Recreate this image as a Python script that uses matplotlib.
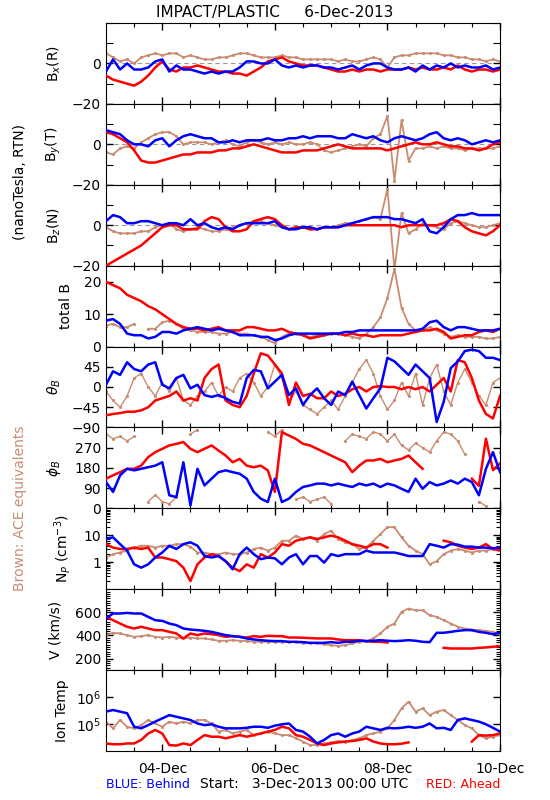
import numpy as np
import matplotlib
matplotlib.use("Agg")
import matplotlib.pyplot as plt
from matplotlib.ticker import FixedLocator, NullFormatter, LogLocator

nan = np.nan

# 3-hourly samples from 3-Dec-2013 00:00 UTC to 10-Dec-2013 00:00 UTC (days since start)
days = np.arange(57) * 3 / 24.0

BLUE = "#0000ff"
RED = "#ff0000"
BROWN = "#c98c72"

# ---- B_x (R), nT
bx_blue = [-4, 2, -3, 0, -3, -3, -2, 1, 2, -4, -1, -3, -3, -4, -5, -4, -5, -4, -4, -2,
           1, 1, 0, 0, 2, -1, -2, -1, -2, -1, -1, -2, -2, -3, -2, -1, -3, -1, 0, 0,
           -2, -3, -3, -2, -4, -1, -3, -1, -2, 0, -2, -1, -2, -2, -1, -3, -2]
bx_red = [-6, -8, -9, -10, -11, -9, -6, -2, 1, -3, -4, -2, -2, -1, -2, -3, -4, -4, -5, -5,
          -6, -4, -2, 1, 2, 3, 1, 0, -1, -1, -1, -2, -3, -4, -4, -3, -4, -3, -3, -4,
          -3, -3, -3, -2, -3, -2, -3, -3, -2, -3, -1, -3, -4, -3, -3, -4, -3]
bx_ace = [5, 3, 1, 2, 0, 3, 4, 5, 4, 5, 5, 3, 4, 3, 2, 2, 3, 3, 4, 5,
          5, 4, 3, 3, 3, 4, 3, 3, 2, 2, 2, 2, 2, 1, 2, 1, 1, 2, 3, 2,
          -2, 3, 4, 4, 5, 5, 5, 5, 4, 4, 3, 3, 2, 2, 1, 2, 1]

# ---- B_y (T), nT
by_blue = [7, 6, 5, 2, 0, 0, -1, 2, 3, -1, 2, 4, 5, 4, 3, 3, 1, 1, 2, 1,
           2, 2, 2, 3, 2, 2, 3, 3, 4, 3, 4, 4, 4, 3, 3, 5, 4, 3, 4, 2,
           1, 3, 4, 3, 2, 3, 5, 6, 3, 2, 3, 2, 0, 1, 2, 1, 2]
by_red = [6, 5, 3, 1, -3, -8, -9, -9, -8, -7, -6, -5, -5, -4, -4, -4, -3, -3, -2, -2,
          -1, 0, -1, -2, -3, -4, -4, -4, -3, -3, -3, -2, -1, 0, -1, -2, -2, -2, -2, -2,
          -3, -2, -1, 0, 1, 0, 0, 1, 0, -1, -1, -2, -2, -3, -2, 0, 1]
by_ace = [-4, -5, -2, -1, -2, 1, 3, 5, 6, 6, 4, 0, 1, 1, 1, 0, 1, 2, 0, -1,
          1, 2, 1, 0, 1, 0, 1, 0, 0, 1, 0, -3, -4, -3, -2, -1, 0, -1, 3, 5,
          14, -18, 12, -8, -2, -2, -1, -2, -1, -2, -2, -3, -2, -2, -2, -2, -1]

# ---- B_z (N), nT
bz_blue = [2, 5, 4, 1, 1, 2, 2, 1, 0, 1, 1, 0, 3, 0, 1, -1, -2, -1, -2, 0,
           1, 1, 1, 1, 2, -1, -2, -2, -1, -1, -2, -1, -1, -1, 0, 1, 2, 3, 4, 4,
           4, 3, 3, 2, 1, 3, -3, -4, -1, 3, 5, 5, 6, 5, 5, 5, 5]
bz_red = [-20, -18, -16, -14, -12, -10, -7, -4, -1, 0, 0, -2, -2, -2, 2, 4, 3, -1, -3, -3,
          -2, 2, 3, 4, 3, 0, -2, -1, -1, -2, -2, -1, -1, -1, 0, 0, 0, 0, 0, 0,
          0, 0, -1, 0, 0, 0, 0, 0, 1, 3, 2, -1, -3, -4, -5, -3, 0]
bz_ace = [-1, -3, -4, -4, -4, -3, -3, -1, 0, 1, -2, -3, -2, -1, -2, -3, -3, -2, -1, 0,
          1, 2, 2, 1, 0, -1, -2, -1, -1, -2, -2, -1, -1, 0, 1, 1, 2, 3, 4, 3,
          18, -22, 6, -4, -2, 1, 0, -1, -2, 1, 2, 1, 0, -1, -1, 0, 1]

# ---- |B|, nT
bt_blue = [8, 8.5, 7, 4, 3.5, 3.5, 2.5, 3, 4.5, 4.5, 4, 5, 5.5, 6, 5.5, 5, 5.5, 5, 4.5, 3.5,
           3.5, 3.5, 3, 3, 2, 2.5, 3.5, 4, 4, 4, 4, 4, 4, 4, 4.5, 4.5, 5, 5, 5, 5,
           5, 5, 5, 5, 5, 5.5, 7.5, 8, 6, 5, 6, 6, 5.5, 5, 5, 5, 5.5]
bt_red = [20, 19, 18, 16, 15, 14, 12.5, 11.5, 10, 8.5, 7, 6, 5.5, 5.5, 5, 5.5, 6, 5, 5, 5,
          6, 6, 5.5, 5, 5, 5.5, 4.5, 4, 3.5, 2.5, 3, 3.5, 4, 4, 3.5, 4, 3.5, 3.5, 3, 3.5,
          3.5, 3.5, 3.5, 4, 4.5, 5, 5, 5.5, 4.5, 2.5, 3, 3.5, 3.5, 4.5, 5, 4.5, 5.5]
bt_ace = [6.5, 7, 6, 6, 7, nan, 5.5, 5.5, 7.5, 8, 7, 5.5, 5, 4.5, 4.5, 4.5, 4, 4, 4.5, 4,
          4, 3.5, 3, 2, 1, 3, 4, 4, 3.5, 3, 3.5, 3.5, 4, 4, 3.5, 3, 2.5, 4, 6, 9,
          15, 24, 12, 7, 5, 5, 6, 5, 4, 3, 3.5, 3, 3, 3, 2.5, 2.5, 3]

# ---- theta_B, deg
th_blue = [5, 35, 27, 55, 40, 35, 50, 55, 5, -3, 20, 27, -3, 5, -18, -22, -18, -25, -33, -37,
           20, 38, 35, -3, 12, 27, -18, -3, -40, -18, -3, -25, -40, -10, -18, 12, -18, -48, -25, -3,
           65, 57, 42, 27, 50, 35, 20, -78, -33, 42, 57, 80, 83, 80, 65, 65, 60]
th_red = [-63, -60, -58, -55, -55, -52, -45, -30, -25, -20, -10, -30, -25, -30, 20, 40, 50, -30, -40, -45,
          -20, 30, 75, 70, 50, 30, -40, 10, -20, -15, -25, -25, -10, -20, -15, -5, 0, -10, 0, 2,
          0, 0, -5, 0, -5, 0, -10, 5, 20, -10, 60, 55, 20, -30, -60, -70, -20]
th_ace = [-10, -30, -45, -20, 20, 30, 0, -20, 10, -10, 20, -30, -40, -20, -10, 10, -20, 0, -10, 20,
          30, 10, -20, 0, 50, 20, -30, -10, -40, -50, -60, -45, -30, -50, -20, 10, 40, 60, 30, -20,
          -50, -30, 10, -20, 30, -40, 20, 50, -10, -40, 10, 40, 10, -20, -40, 10, 20]

# ---- phi_B, deg
ph_blue = [117, 73, 147, 176, 169, 176, 183, 190, 205, 58, 50, 205, 13, 176, 102, 132, 161, 169, 161, 154,
           132, 73, 43, 28, 132, 28, 43, 73, 95, 102, 110, 110, 102, 110, 102, 95, 110, 102, 110, 95,
           110, 102, 87, 73, 132, 87, 117, 102, 110, 124, 110, 132, 117, 58, 176, 250, 161]
ph_red = [132, 147, 161, 176, 176, 190, 228, 250, 265, 280, 287, 295, 265, 250, 265, 280, 257, 235, 205, 220,
          190, 183, 190, 169, 73, 339, 324, 309, 287, 280, 265, 250, 235, 220, 205, 161, 190, 213, 213, 220,
          205, 213, 220, 235, 205, 176, nan, nan, nan, nan, nan, nan, 132, 100, 310, 170, 200]
ph_ace = [330, 310, 320, 300, 320, nan, 30, 60, 30, 20, 50, nan, 330, 350, nan, nan, nan, nan, nan, nan,
          nan, nan, nan, 340, 320, 350, nan, 40, 50, 30, 40, 50, 20, nan, 300, 330, 320, 310, 340, 330,
          300, 330, 280, 260, 290, 270, 250, 300, 340, 330, 300, 240, nan, 30, 10, nan, 250]

# ---- N_p, cm^-3
np_blue = [7.3, 8.4, 4.7, 2.7, 0.84, 0.63, 0.84, 1.5, 2.3, 4.1, 3.1, 4.7, 5.5, 4.1, 1.7, 1.5, 1.7, 1.1, 0.55, 2.0,
           3.5, 2.0, 1.3, 1.5, 1.4, 0.84, 1.5, 2.0, 0.84, 1.7, 1.7, 0.97, 2.0, 1.7, 2.0, 2.0, 2.0, 2.7, 2.3, 2.3,
           2.3, 2.3, 2.0, 1.7, 1.7, 1.7, 4.7, 4.1, 3.5, 4.7, 4.5, 3.8, 3.8, 3.5, 3.5, 3.3, 3.5]
np_red = [4.7, 3.5, 3.1, 3.1, 3.5, 3.1, 3.5, 1.5, 1.5, 1.3, 1.1, 0.63, 0.2, 0.84, 1.5, 2.0, 1.7, 1.1, 0.63, 0.47,
          0.84, 0.63, 2.0, 1.5, 2.3, 4.7, 4.1, 6.3, 7.3, 8.4, 7.3, 8.4, 9.7, 8.4, 6.3, 4.7, 4.1, 3.5, 4.7, 4.7,
          3.5, nan, nan, nan, nan, nan, nan, nan, 6.3, 5.5, 4.1, 3.5, 3.1, 3.5, 4.7, 3.1, 2.7]
np_ace = [1.5, 2.0, 2.3, 2.7, 3.5, 4.1, 4.1, 3.5, 4.1, 4.1, 4.7, 4.7, 3.8, 2.3, 2.3, 2.0, 2.0, 2.3, 2.0, 2.0,
          2.3, 3.1, 3.5, 2.7, 3.5, 6.3, 6.3, 9.7, 7.3, 8.4, 6.3, 11, 15, 7.3, 5.5, 4.7, 3.1, 3.5, 6.3, 11,
          20, 20, 8.4, 4.1, 2.7, 2.0, 0.84, 1.1, 2.0, 2.7, 3.1, 2.7, 2.3, 2.7, 2.7, 3.1, 3.5]

# ---- V, km/s
v_blue = [547, 590, 590, 595, 590, 590, 561, 532, 526, 503, 489, 460, 451, 446, 440, 431, 417, 403, 394, 388,
          374, 365, 359, 354, 351, 351, 345, 345, 342, 336, 336, 336, 342, 336, 345, 345, 354, 351, 354, 359,
          354, 351, 354, 359, 354, 345, 342, 423, 423, 431, 440, 446, 446, 431, 423, 411, 423]
v_red = [561, 532, 503, 475, 460, 475, 460, 446, 446, 431, 417, 374, 417, 403, 417, 411, 403, 388, 394, 388,
         382, 394, 388, 397, 394, 394, 382, 382, 380, 377, 374, 374, 374, 365, 359, 359, 359, 351, 345, 345,
         339, nan, nan, nan, nan, nan, nan, nan, 293, 287, 287, 287, 287, 293, 296, 302, 307]
v_ace = [403, 423, 417, 403, 388, 394, 403, 388, 382, 388, 382, 374, 382, 374, 374, 365, 354, 354, 359, 354,
         351, 345, 345, 345, 345, 345, 345, 342, 336, 336, 331, 325, 316, 310, 316, 331, 345, 351, 374, 417,
         475, 503, 604, 633, 618, 618, 575, 561, 532, 503, 475, 460, 451, 446, 440, 431, 411]

# ---- ion temperature, log10(K)
lt_blue = [5.46, 5.52, 5.46, 5.40, 4.90, 4.84, 4.96, 5.09, 5.21, 5.33, 5.27, 5.21, 5.15, 5.02, 4.96, 4.99, 4.90, 4.84, 4.84, 4.84,
           4.86, 4.90, 4.90, 4.86, 4.94, 4.99, 5.02, 4.78, 4.72, 4.53, 4.28, 4.41, 4.59, 4.65, 4.53, 4.65, 4.72, 4.90, 4.84, 4.78,
           4.86, 4.84, 4.86, 4.90, 4.86, 4.90, 5.02, 4.84, 4.86, 4.78, 5.15, 5.21, 5.15, 5.09, 4.99, 4.86, 4.72]
lt_red = [4.28, 4.25, 4.25, 4.28, 4.28, 4.41, 4.65, 4.78, 4.65, 4.22, 4.20, 4.28, 4.22, 4.41, 4.59, 4.53, 4.53, 4.47, 4.53, 4.59,
          4.53, 4.59, 4.65, 4.72, 4.78, 4.90, 4.84, 4.59, 4.53, 4.41, 4.28, 4.22, 4.28, 4.32, 4.35, 4.37, 4.41, 4.47, 4.35, 4.28,
          4.25, 4.25, 4.27, 4.32, nan, nan, nan, nan, nan, nan, nan, nan, 4.35, 4.59, 4.57, 4.59, 4.65]
lt_ace = [5.09, 4.84, 5.15, 4.90, 4.84, 4.96, 5.15, 5.02, 4.90, 5.09, 5.02, 5.09, 5.02, 5.15, 5.15, 5.02, 4.72, 4.78, 4.65, 4.72,
          4.78, 4.59, 4.65, 4.72, 4.65, 4.59, 4.59, 4.47, 4.35, 4.22, 4.22, 4.28, 4.32, 4.37, 4.35, 4.41, 4.47, 4.59, 4.65, 4.72,
          4.84, 5.15, 5.58, 5.83, 5.46, 5.58, 5.33, 5.46, 5.52, 5.33, 5.15, 4.96, 4.84, 4.59, 4.47, 4.53, 4.59]

panels = [
    ("B$_x$(R)", bx_ace, bx_red, bx_blue),
    ("B$_y$(T)", by_ace, by_red, by_blue),
    ("B$_z$(N)", bz_ace, bz_red, bz_blue),
    ("total B", bt_ace, bt_red, bt_blue),
    (r"$\theta_B$", th_ace, th_red, th_blue),
    (r"$\phi_B$", ph_ace, ph_red, ph_blue),
    ("N$_P$ (cm$^{-3}$)", np_ace, np_red, np_blue),
    ("V (km/s)", v_ace, v_red, v_blue),
    ("Ion Temp", lt_ace, lt_red, lt_blue),
]
label_x = [-0.11, -0.11, -0.11, -0.085, -0.11, -0.11, -0.085, -0.11, -0.095]

plt.rcParams["font.size"] = 10
fig = plt.figure(figsize=(5.5, 8), dpi=100)
left, right = 106 / 550, 500 / 550
top, bottom = 1 - 23 / 800, 1 - 751 / 800
h = (top - bottom) / 9

for k, (label, ace, red, blue) in enumerate(panels):
    ax = fig.add_axes([left, top - (k + 1) * h, right - left, h])
    ace = np.array(ace, dtype=float)
    red = np.array(red, dtype=float)
    blue = np.array(blue, dtype=float)
    if k == 8:
        ace, red, blue = 10 ** ace, 10 ** red, 10 ** blue
    lw_ace = 1.0 if k in (4, 5) else 1.3
    ax.plot(days, ace, color=BROWN, lw=lw_ace, marker=".", ms=2.5, zorder=2)
    ax.plot(days, red, color=RED, lw=1.8, zorder=3)
    ax.plot(days, blue, color=BLUE, lw=1.8, zorder=4)
    ax.set_xlim(0, 7)
    ax.set_ylabel(label, fontsize=10)
    ax.yaxis.set_label_coords(label_x[k], 0.5)
    ax.tick_params(which="both", direction="in", top=True, right=True, labelsize=10)
    ax.tick_params(which="major", length=5, width=1)
    ax.tick_params(which="minor", length=3, width=0.8)
    ax.xaxis.set_major_locator(FixedLocator([1, 3, 5, 7]))
    ax.xaxis.set_minor_locator(FixedLocator(np.arange(0.5, 7, 0.5)))
    if k < 8:
        ax.xaxis.set_major_formatter(NullFormatter())

    if k < 3:
        ax.set_ylim(-20, 20)
        ax.axhline(0, color="#999999", lw=0.8, ls=(0, (4, 3)), zorder=1)
        ax.yaxis.set_major_locator(FixedLocator([-20, 0]))
        ax.yaxis.set_minor_locator(FixedLocator([-10, 10, 20]))
        ax.tick_params(axis="y", which="minor", length=5)
    elif k == 3:
        ax.set_ylim(0, 25)
        ax.set_yticks([0, 10, 20])
    elif k == 4:
        ax.set_ylim(-90, 90)
        ax.set_yticks([-90, -45, 0, 45])
    elif k == 5:
        ax.set_ylim(0, 360)
        ax.set_yticks([0, 90, 180, 270])
    elif k == 6:
        ax.set_yscale("log")
        ax.set_ylim(0.1, 100)
        ax.set_yticks([1, 10])
        ax.set_yticklabels(["1", "10"])
        ax.yaxis.set_minor_locator(LogLocator(base=10, subs=np.arange(2, 10)))
        ax.yaxis.set_minor_formatter(NullFormatter())
    elif k == 7:
        ax.set_ylim(100, 800)
        ax.set_yticks([200, 400, 600])
        ax.yaxis.set_minor_locator(FixedLocator(np.arange(100, 801, 20)))
    else:
        ax.set_yscale("log")
        ax.set_ylim(1e4, 1e7)
        ax.set_yticks([1e5, 1e6])
        ax.set_yticklabels(["10$^5$", "10$^6$"])
        ax.yaxis.set_minor_locator(FixedLocator([]))
        ax.set_xticklabels(["04-Dec", "06-Dec", "08-Dec", "10-Dec"])
        ax.tick_params(axis="x", pad=8)

fig.text(0.5, 1 - 12 / 800, "IMPACT/PLASTIC     6-Dec-2013", ha="center", va="center", fontsize=11)
fig.text(20 / 550, 1 - 182 / 800, "(nanoTesla, RTN)", rotation=90, ha="center", va="center", fontsize=10)
fig.text(20 / 550, 1 - 508 / 800, "Brown: ACE equivalents", rotation=90, ha="center", va="center",
         fontsize=10, color=BROWN)
fig.text(left, 1 - 784 / 800, "BLUE: Behind", color=BLUE, ha="left", va="center", fontsize=9)
fig.text(200 / 550, 1 - 784 / 800, "Start:   3-Dec-2013 00:00 UTC", color="black", ha="left", va="center", fontsize=10)
fig.text(right, 1 - 784 / 800, "RED: Ahead", color=RED, ha="right", va="center", fontsize=9)

fig.savefig("out.png", dpi=100)
